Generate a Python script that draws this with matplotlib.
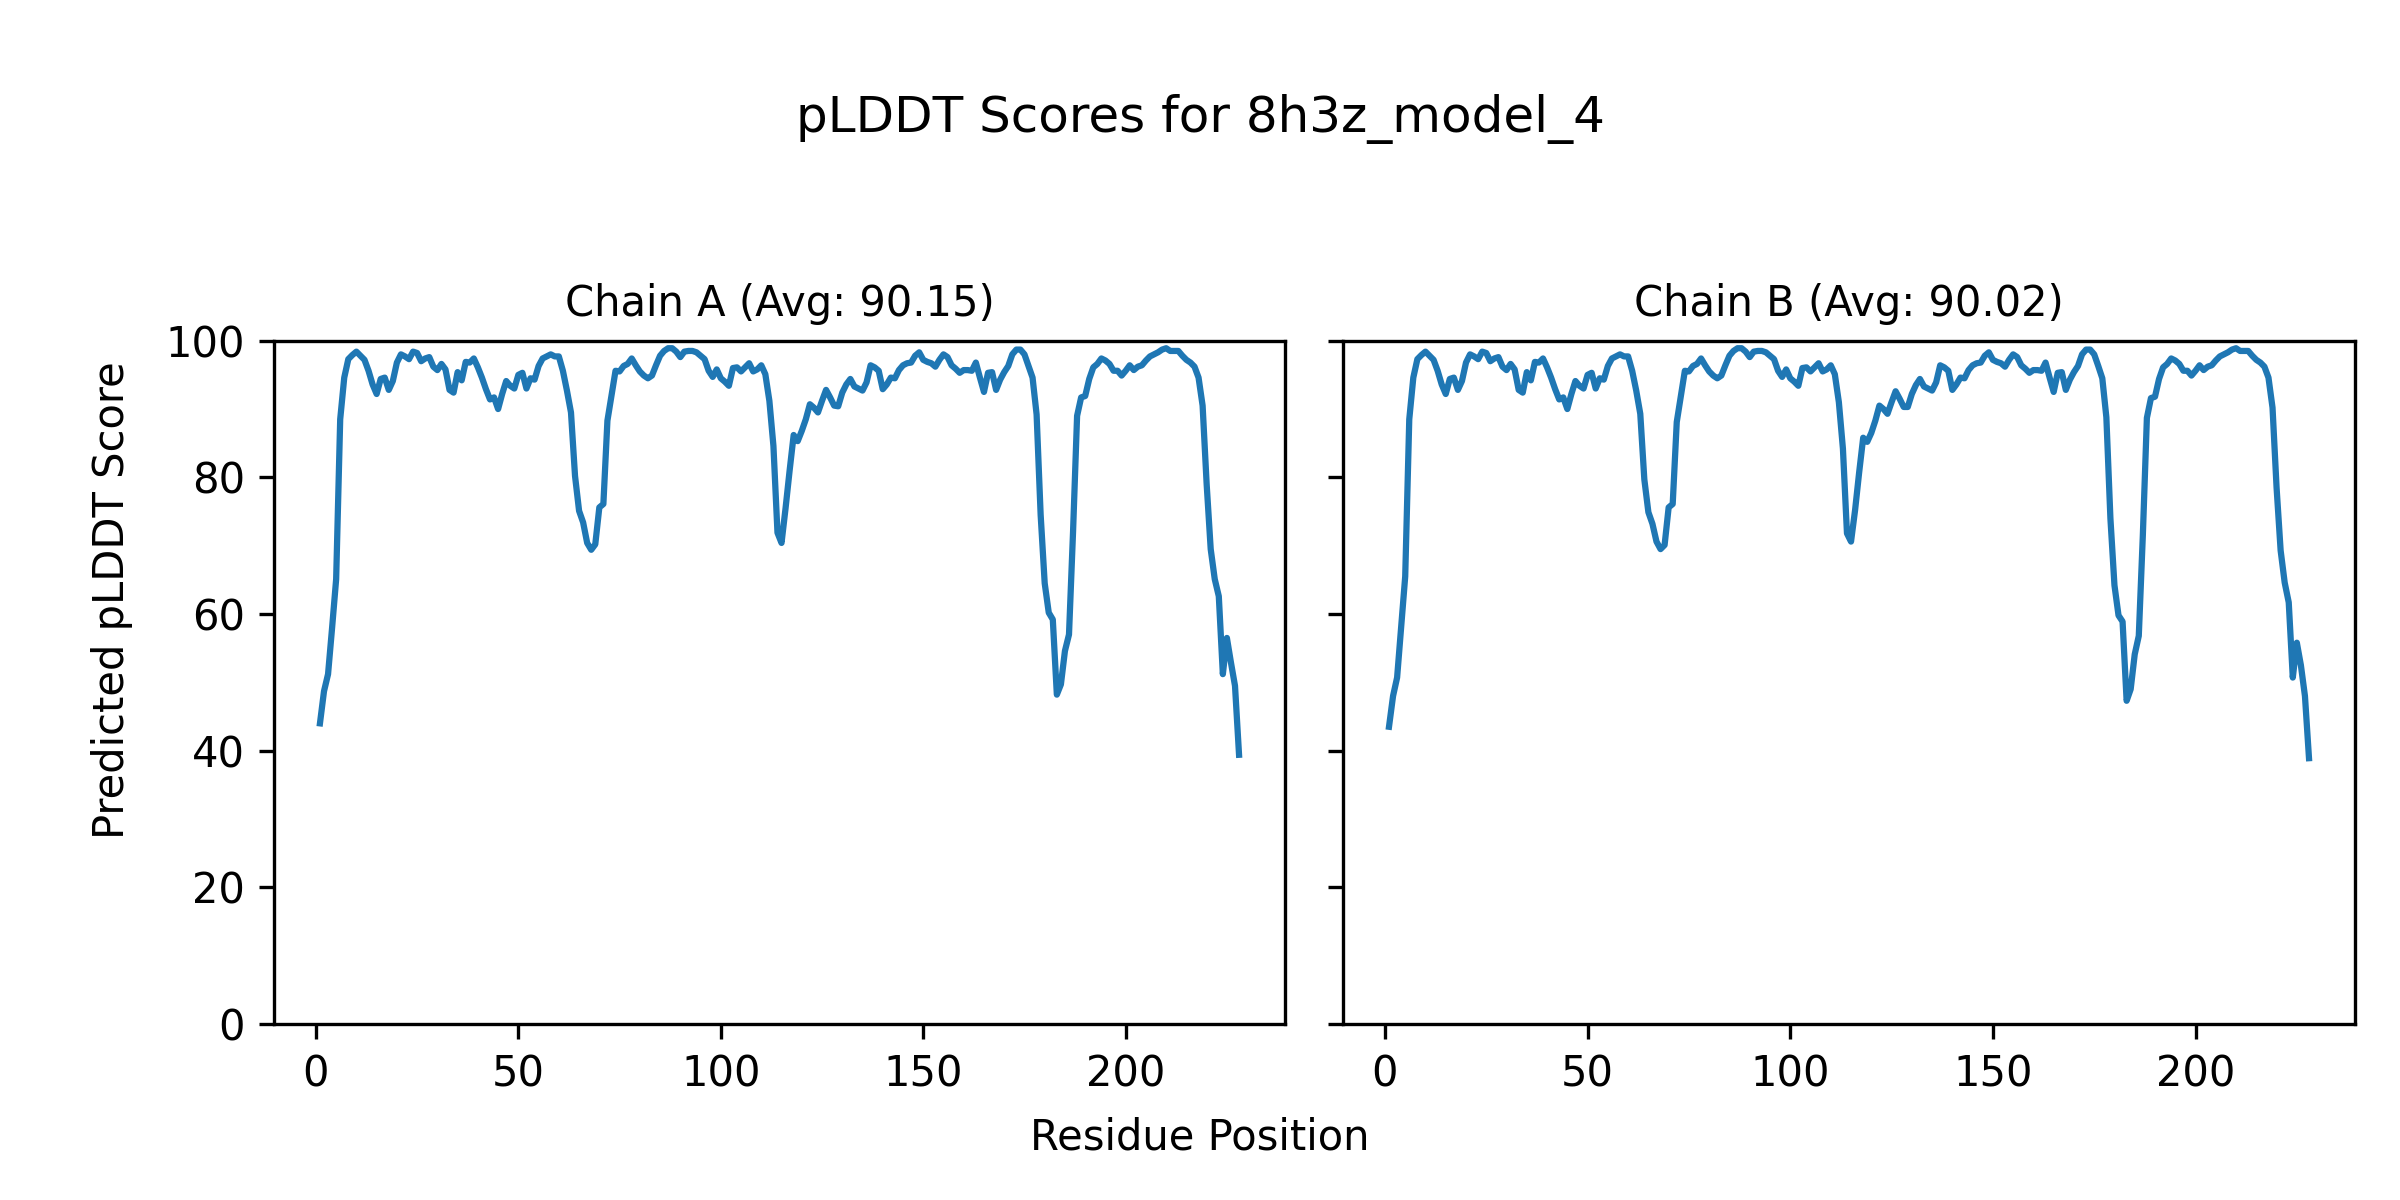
import matplotlib
matplotlib.use("Agg")
import matplotlib.pyplot as plt
import numpy as np

title = "pLDDT Scores for 8h3z_model_4"
chain_titles = ["Chain A (Avg: 90.15)", "Chain B (Avg: 90.02)"]

chain_a = [
    44.0, 48.7, 51.2, 58.0, 65.1, 88.5, 94.6, 97.3, 97.9, 98.4,
    97.8, 97.2, 95.6, 93.6, 92.2, 94.4, 94.6, 92.8, 94.1, 96.8,
    98.0, 97.7, 97.3, 98.4, 98.2, 97.0, 97.4, 97.6, 96.2, 95.7,
    96.6, 95.8, 92.8, 92.4, 95.4, 94.2, 96.9, 96.8, 97.4, 96.1,
    94.6, 92.9, 91.4, 91.7, 90.0, 92.2, 94.1, 93.4, 93.0, 95.0,
    95.3, 93.0, 94.5, 94.3, 96.3, 97.4, 97.7, 98.0, 97.7, 97.7,
    95.6, 92.7, 89.5, 80.2, 75.1, 73.4, 70.4, 69.4, 70.2, 75.6,
    76.1, 88.3, 91.9, 95.6, 95.5, 96.3, 96.6, 97.4, 96.4, 95.5,
    94.9, 94.5, 94.9, 96.4, 97.8, 98.5, 98.9, 98.9, 98.4, 97.6,
    98.4, 98.5, 98.5, 98.3, 97.8, 97.3, 95.6, 94.7, 95.8, 94.5,
    94.0, 93.4, 96.0, 96.1, 95.5, 96.1, 96.7, 95.5, 95.8, 96.4,
    95.1, 91.2, 84.6, 71.9, 70.4, 75.5, 81.0, 86.2, 85.3, 86.8,
    88.5, 90.7, 90.2, 89.5, 91.2, 92.8, 91.7, 90.5, 90.4, 92.4,
    93.6, 94.4, 93.3, 93.0, 92.7, 93.9, 96.4, 96.1, 95.6, 92.9,
    93.6, 94.6, 94.5, 95.7, 96.4, 96.7, 96.8, 97.8, 98.3, 97.2,
    96.9, 96.7, 96.2, 97.2, 98.0, 97.6, 96.4, 95.9, 95.3, 95.7,
    95.7, 95.6, 96.8, 94.6, 92.5, 95.3, 95.4, 92.8, 94.3, 95.4,
    96.3, 98.0, 98.7, 98.7, 98.0, 96.3, 94.6, 89.2, 74.5, 64.5,
    60.2, 59.2, 48.2, 49.7, 54.6, 57.0, 72.0, 89.0, 91.7, 91.9,
    94.4, 96.1, 96.6, 97.4, 97.1, 96.6, 95.6, 95.6, 94.9, 95.6,
    96.4, 95.7, 96.2, 96.4, 97.1, 97.7, 98.0, 98.3, 98.7, 98.9,
    98.5, 98.5, 98.5, 97.8, 97.2, 96.8, 96.2, 94.6, 90.5, 79.0,
    69.5, 65.1, 62.6, 51.2, 56.5, 52.9, 49.5, 39.4,
]

chain_b = [
    43.5, 48.0, 50.7, 58.0, 65.5, 88.5, 94.6, 97.3, 97.9, 98.4,
    97.8, 97.2, 95.6, 93.6, 92.2, 94.4, 94.6, 92.8, 94.1, 96.8,
    98.0, 97.7, 97.3, 98.4, 98.2, 97.0, 97.4, 97.6, 96.2, 95.7,
    96.6, 95.8, 92.8, 92.4, 95.4, 94.2, 96.9, 96.8, 97.4, 96.1,
    94.6, 92.9, 91.4, 91.7, 90.0, 92.2, 94.1, 93.4, 93.0, 95.0,
    95.3, 93.0, 94.5, 94.3, 96.3, 97.4, 97.7, 98.0, 97.7, 97.7,
    95.6, 92.7, 89.3, 79.7, 74.9, 73.2, 70.6, 69.5, 70.1, 75.6,
    76.1, 88.1, 91.9, 95.6, 95.5, 96.3, 96.6, 97.4, 96.4, 95.5,
    94.9, 94.5, 94.9, 96.4, 97.8, 98.5, 98.9, 98.9, 98.4, 97.6,
    98.4, 98.5, 98.5, 98.3, 97.8, 97.3, 95.6, 94.7, 95.8, 94.5,
    94.0, 93.4, 96.0, 96.1, 95.5, 96.1, 96.7, 95.5, 95.8, 96.4,
    95.1, 91.0, 84.2, 71.8, 70.6, 75.2, 80.7, 85.8, 85.2, 86.5,
    88.3, 90.5, 90.0, 89.3, 91.0, 92.6, 91.5, 90.3, 90.3, 92.2,
    93.5, 94.4, 93.3, 93.0, 92.7, 93.9, 96.4, 96.1, 95.6, 92.8,
    93.6, 94.6, 94.5, 95.7, 96.4, 96.7, 96.8, 97.8, 98.3, 97.2,
    96.9, 96.7, 96.2, 97.2, 98.0, 97.6, 96.4, 95.9, 95.3, 95.7,
    95.7, 95.6, 96.8, 94.6, 92.5, 95.3, 95.4, 92.8, 94.3, 95.4,
    96.3, 98.0, 98.7, 98.7, 98.0, 96.3, 94.5, 88.8, 74.0, 64.2,
    59.8, 58.9, 47.3, 49.0, 54.1, 56.8, 71.5, 88.7, 91.6, 91.8,
    94.4, 96.1, 96.6, 97.4, 97.1, 96.6, 95.6, 95.6, 94.9, 95.6,
    96.4, 95.7, 96.2, 96.4, 97.1, 97.7, 98.0, 98.3, 98.7, 98.9,
    98.5, 98.5, 98.5, 97.8, 97.2, 96.8, 96.2, 94.6, 90.2, 78.5,
    69.3, 64.6, 61.7, 50.7, 55.8, 52.5, 48.0, 38.9,
]

residues_a = np.arange(1, len(chain_a) + 1)
residues_b = np.arange(1, len(chain_b) + 1)

fig = plt.figure(figsize=(8, 4), dpi=300)
W, H = 2400.0, 1200.0
ax1 = fig.add_axes([274 / W, 1 - 1024 / H, (1285 - 274) / W, (1024 - 340.7) / H])
ax2 = fig.add_axes([1343 / W, 1 - 1024 / H, (2355 - 1343) / W, (1024 - 340.7) / H], sharey=ax1)

for ax, res, vals, t in [(ax1, residues_a, chain_a, chain_titles[0]),
                         (ax2, residues_b, chain_b, chain_titles[1])]:
    ax.plot(res, vals, color="#1f77b4", linewidth=1.5)
    ax.set_title(t, fontsize=10)
    ax.set_ylim(0, 100)
    ax.tick_params(labelsize=10)

plt.setp(ax2.get_yticklabels(), visible=False)
fig.text(112 / W, 0.5, "Predicted pLDDT Score", ha="center", va="center",
         rotation=90, fontsize=10)
fig.text(0.5, 1 - 1137 / H, "Residue Position", ha="center", va="center", fontsize=10)
fig.text(0.5, 1 - 119 / H, title, ha="center", va="center", fontsize=12)

fig.savefig("out.png", dpi=300)
